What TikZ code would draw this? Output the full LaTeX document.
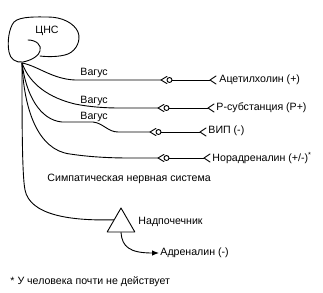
\documentclass[tikz,border=0pt]{standalone}
\usepackage{fontspec}
\setmainfont{Liberation Sans}
\usetikzlibrary{arrows.meta,shapes.geometric}
\begin{document}
\begin{tikzpicture}[x=1pt,y=-1pt,line width=0.9pt,line cap=round,line join=round,
  lbl/.style={font=\fontsize{10.6}{12}\selectfont,inner sep=0pt,anchor=west},
  syncirc/.style={draw,circle,inner sep=0pt,minimum size=5pt},
  gland/.style={draw,regular polygon,regular polygon sides=3,minimum size=32pt,inner sep=0pt}]
\useasboundingbox (0,0) rectangle (323,292);
% CNS outline
\draw (28,40) .. controls (36,40) and (42,45) .. (40,51)
  .. controls (39,55) and (33,60) .. (23,62)
  .. controls (16,63) and (10,59) .. (9,52)
  .. controls (7,42) and (9,28) .. (14,22)
  .. controls (20,16) and (38,17) .. (48,17)
  .. controls (62,17) and (74,23) .. (78,32)
  .. controls (81,40) and (77,50) .. (68,54)
  .. controls (60,57) and (48,57) .. (40,56);
\node[lbl,anchor=center] (cns) at (47,31) {ЦНС};
\coordinate (root) at (22,63);
% synapses and forks
\coordinate (s1) at (161,80);  \coordinate (f1) at (210,80);
\coordinate (s2) at (158,108); \coordinate (f2) at (208,108);
\coordinate (s3) at (150,132); \coordinate (f3) at (200,132);
\coordinate (s4) at (158,158); \coordinate (f4) at (204,158);
\foreach \i in {1,2,3,4}{
  \draw ([shift={(6,-3.6)}]s\i) -- (s\i) -- ([shift={(6,3.6)}]s\i);
  \node[syncirc] (c\i) at ([xshift=8.5pt]s\i) {};
  \draw (c\i) -- (f\i);
  \draw ([shift={(6,-4)}]f\i) -- (f\i) -- ([shift={(6,4)}]f\i);
}
% fibres
\draw (root) .. controls (38,66) and (52,79) .. (75,80) -- (s1);
\draw (root) .. controls (30,85) and (50,98) .. (75,104)
  .. controls (90,107) and (105,108) .. (120,108) -- (s2);
\draw (root) .. controls (26,95) and (40,120) .. (62,122) -- (93,122)
  .. controls (103,123) and (108,132) .. (118,132) -- (s3);
\draw (root) .. controls (24,110) and (38,150) .. (70,154)
  .. controls (90,157) and (110,158) .. (130,158) -- (s4);
% adrenal
\node[gland] (adr) at (121,224) {};
\draw (root) .. controls (22,120) and (22,175) .. (25,190)
  .. controls (30,215) and (70,221) .. (adr.side 1);
\node[lbl] (adrt) at (160,253) {Адреналин (-)};
\draw[-{Latex[length=7pt,width=5.5pt]}] (adr.side 2) .. controls (122,247) and (130,253) .. ([xshift=-1pt]adrt.west);
% labels
\node[lbl] (vag1) at (80,73) {Вагус};
\node[lbl] (vag2) at (80,101) {Вагус};
\node[lbl] (vag3) at (80,117) {Вагус};
\node[lbl] (acet) at (219,80) {Ацетилхолин (+)};
\node[lbl] (psub) at (216,108) {Р-субстанция (Р+)};
\node[lbl] (vip) at (208,131) {ВИП (-)};
\node[lbl] (nor) at (212,158) {Норадреналин (+/-)\textsuperscript{*}};
\node[lbl] (symp) at (47,179) {Симпатическая нервная система};
\node[lbl] (nadp) at (138,222) {Надпочечник};
\node[lbl] (foot) at (10,282) {* У человека почти не действует};
\end{tikzpicture}
\end{document}
